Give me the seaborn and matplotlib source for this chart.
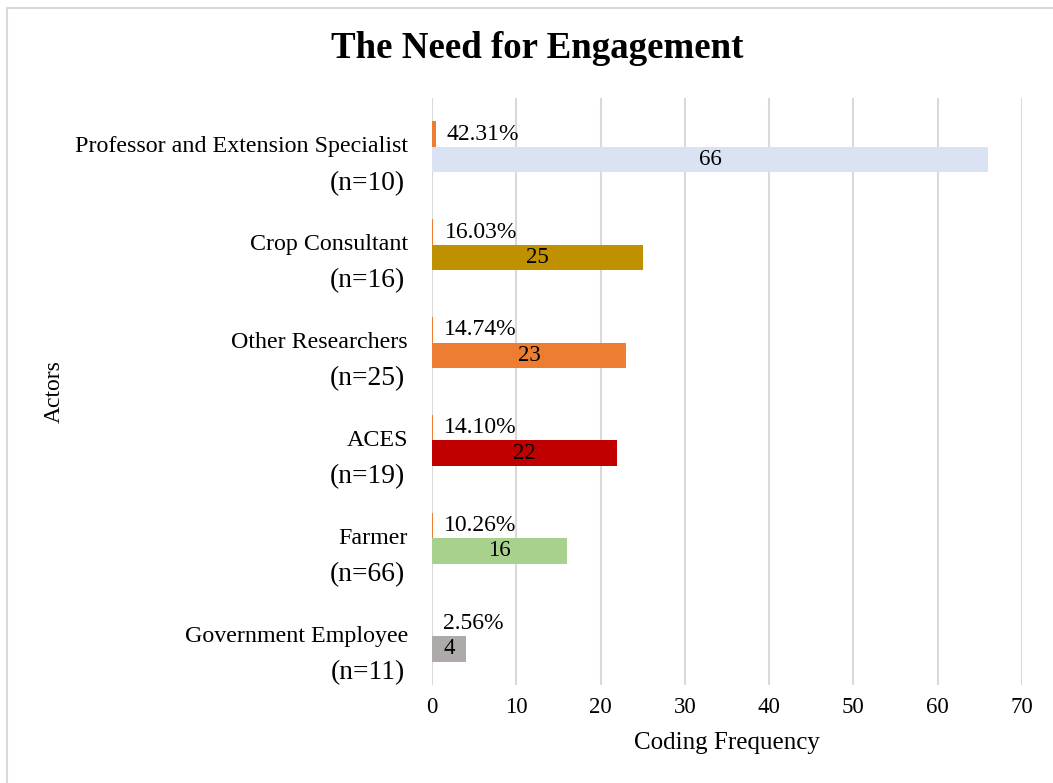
import matplotlib
matplotlib.use("Agg")
import matplotlib.pyplot as plt
from matplotlib.lines import Line2D
import seaborn as sns
import pandas as pd

# ---- data ----
categories = ["Professor and Extension Specialist", "Crop Consultant", "Other Researchers",
              "ACES", "Farmer", "Government Employee"]
sample_sizes = ["(n=10)", "(n=16)", "(n=25)", "(n=19)", "(n=66)", "(n=11)"]
counts = [66, 25, 23, 22, 16, 4]
percents = [42.31, 16.03, 14.74, 14.10, 10.26, 2.56]
count_colors = ["#DAE3F3", "#BF9000", "#ED7D31", "#C00000", "#A9D18E", "#AEAAAA"]
pct_color = "#ED7D31"
xticks = [0, 10, 20, 30, 40, 50, 60, 70]

sns.set_style("white")
plt.rcParams["font.family"] = ["Liberation Serif", "DejaVu Serif"]

df = pd.DataFrame({
    "Actor": categories * 2,
    "Series": ["Percent"] * len(categories) + ["Count"] * len(categories),
    "Value": [p / 100 for p in percents] + counts,
})

fig = plt.figure(figsize=(10.53, 7.83), dpi=100)
ax = fig.add_axes([432 / 1053, 1 - 685 / 783, 590 / 1053, 587 / 783])

sns.barplot(data=df, y="Actor", x="Value", hue="Series", hue_order=["Percent", "Count"],
            order=categories, orient="h", width=0.52, gap=0, dodge=True,
            palette={"Percent": pct_color, "Count": "#DAE3F3"}, saturation=1,
            legend=False, ax=ax, edgecolor="none", linewidth=0)

# recolor count bars per category
for bar, c in zip(ax.containers[1], count_colors):
    bar.set_facecolor(c)
for bar in ax.containers[0]:
    bar.set_facecolor(pct_color)

ax.bar_label(ax.containers[1], labels=[str(c) for c in counts], label_type="center",
             fontsize=16.5, color="#000000")
ax.bar_label(ax.containers[0], labels=[f"{p:.2f}%" for p in percents], label_type="edge",
             padding=8, fontsize=17, color="#000000")

ax.set_xlim(0, 70)
ax.set_xticks(xticks)
ax.set_xticklabels([str(t) for t in xticks], fontsize=16.5, color="#000000")
ax.set_yticks([])
ax.tick_params(axis="x", length=0, pad=8.5)
ax.grid(axis="x", color="#D9D9D9", linewidth=1.5)
ax.set_axisbelow(True)
for s in ax.spines.values():
    s.set_visible(False)

ax.set_xlabel("Coding Frequency", fontsize=18, labelpad=10, color="#000000")
ax.set_ylabel("Actors", fontsize=17, color="#000000", va="center")
ax.yaxis.set_label_coords(-0.64, 0.5)

# two-line category labels
for i, (name, n) in enumerate(zip(categories, sample_sizes)):
    ax.annotate(name, xy=(0, i + 0.0), xycoords=("axes fraction", "data"),
                xytext=(-24, 0), textcoords="offset pixels", ha="right", va="center",
                fontsize=17.3, color="#000000")
    ax.annotate(n, xy=(0, i + 0.37), xycoords=("axes fraction", "data"),
                xytext=(-27, 0), textcoords="offset pixels", ha="right", va="center",
                fontsize=19.8, color="#000000")

fig.text(0.51, 1 - 58 / 783, "The Need for Engagement", ha="center", va="baseline",
         fontsize=26.6, fontweight="bold", color="#000000")

# chart frame (top and left edges visible)
fig.add_artist(Line2D([7 / 1053, 1.0], [1 - 8 / 783, 1 - 8 / 783], transform=fig.transFigure,
                      color="#D9D9D9", linewidth=1.5))
fig.add_artist(Line2D([7 / 1053, 7 / 1053], [0, 1 - 8 / 783], transform=fig.transFigure,
                      color="#D9D9D9", linewidth=1.5))

fig.savefig("out.png", dpi=100)
